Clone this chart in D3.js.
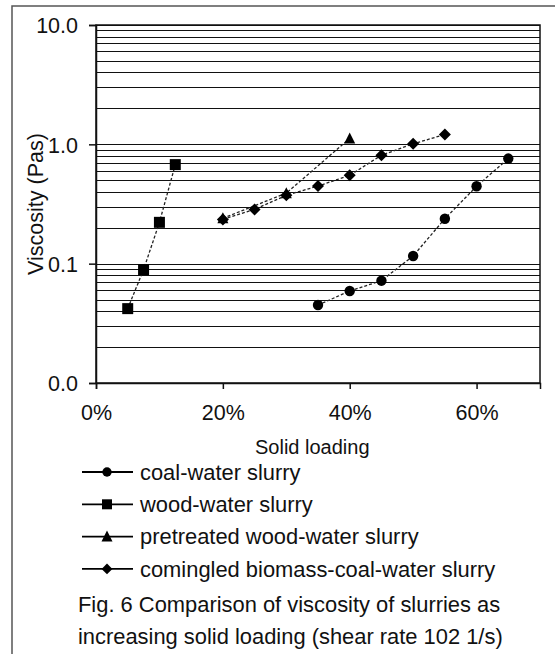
<!doctype html>
<html>
<head>
<meta charset="utf-8">
<title>Viscosity of slurries</title>
<style>
  body { margin: 0; background: #fff; }
  svg { display: block; font-family: "Liberation Sans", Arial, sans-serif; }
  .grid line { stroke: #111; stroke-width: 1; shape-rendering: crispEdges; }
  .lbl { font-size: 21.5px; fill: #111; }
  .big { font-size: 21.9px; }
</style>
</head>
<body>
<svg></svg>
<script src="https://d3js.org/d3.v7.min.js"></script>
<script>
// solid loading (fraction) and viscosity (Pa s) per series
var coalX = [0.35, 0.40, 0.45, 0.50, 0.55, 0.60, 0.65];
var coalY = [0.045, 0.059, 0.072, 0.116, 0.238, 0.445, 0.76];
var woodX = [0.05, 0.075, 0.10, 0.125];
var woodY = [0.042, 0.089, 0.222, 0.676];
var pretreatedX = [0.20, 0.30, 0.40];
var pretreatedY = [0.24, 0.39, 1.12];
var comingledX = [0.20, 0.25, 0.30, 0.35, 0.40, 0.45, 0.50, 0.55];
var comingledY = [0.235, 0.285, 0.374, 0.447, 0.55, 0.81, 1.01, 1.21];

var seriesNames = ['coal-water slurry', 'wood-water slurry', 'pretreated wood-water slurry', 'comingled biomass-coal-water slurry'];
var seriesShapes = ['circle', 'square', 'triangle', 'diamond'];
var xTicks = [0, 0.2, 0.4, 0.6];
var yTicks = [0.01, 0.1, 1, 10];
var caption = ['Fig. 6 Comparison of viscosity of slurries as', 'increasing solid loading (shear rate 102 1/s)'];

var width = 555, height = 654;
var svg = d3.select('svg').attr('width', width).attr('height', height);

var x = d3.scaleLinear().domain([0, 0.7]).range([96, 540]);
var y = d3.scaleLog().domain([0.01, 10]).range([383, 25]);

// outer frame
svg.append('rect')
  .attr('x', 12).attr('y', 6).attr('width', 600).attr('height', 700)
  .attr('fill', 'none').attr('stroke', '#555').attr('stroke-width', 1.5);

// gridlines at every minor value
var gridVals = [];
[0.01, 0.1, 1].forEach(function(d){
  for (var k = 2; k <= 10; k++) gridVals.push(+(d * k).toPrecision(3));
});
svg.append('g').attr('class', 'grid').selectAll('line').data(gridVals).enter().append('line')
  .attr('x1', x(0)).attr('x2', x(0.7))
  .attr('y1', function(d){ return Math.round(y(d)) + 0.5; })
  .attr('y2', function(d){ return Math.round(y(d)) + 0.5; });

// plot frame
svg.append('rect')
  .attr('x', x(0)).attr('y', y(10)).attr('width', x(0.7) - x(0)).attr('height', y(0.01) - y(10))
  .attr('fill', 'none').attr('stroke', '#111').attr('stroke-width', 1.5);

// axes
var xAxis = svg.append('g').attr('transform', 'translate(0,' + y(0.01) + ')')
  .call(d3.axisBottom(x).tickValues(xTicks).tickSize(6).tickFormat(d3.format('.0%')));
var yAxis = svg.append('g').attr('transform', 'translate(' + x(0) + ',0)')
  .call(d3.axisLeft(y).tickValues(yTicks).tickSize(7).tickFormat(d3.format('.1f')));
[xAxis, yAxis].forEach(function(a){
  a.select('.domain').attr('stroke', '#111').attr('stroke-width', 1.5);
  a.selectAll('.tick line').attr('stroke', '#111').attr('stroke-width', 1.5);
  a.selectAll('.tick text').attr('class', 'lbl').attr('font-family', null).attr('font-size', null);
});
xAxis.selectAll('.tick text').attr('dy', null).attr('y', 37);
yAxis.selectAll('.tick text').attr('x', -18).attr('dy', '0.36em');

svg.append('text').attr('class', 'lbl').attr('x', 255).attr('y', 454)
  .style('font-size', '20px').text('Solid loading');
svg.append('text').attr('class', 'lbl')
  .attr('transform', 'translate(43,' + ((y(10) + y(0.01)) / 2) + ') rotate(-90)')
  .attr('text-anchor', 'middle').text('Viscosity (Pas)');

function marker(shape, s){
  var h = s / 2;
  if (shape === 'square') return 'M' + -h + ',' + -h + 'h' + s + 'v' + s + 'h' + -s + 'Z';
  if (shape === 'diamond') return 'M0,' + -h * 1.2 + 'L' + h * 1.2 + ',0L0,' + h * 1.2 + 'L' + -h * 1.2 + ',0Z';
  if (shape === 'triangle') return 'M0,' + -h * 1.2 + 'L' + h * 1.1 + ',' + h + 'L' + -h * 1.1 + ',' + h + 'Z';
  return d3.symbol(d3.symbolCircle, s * s * 0.85)();
}

var seriesX = [coalX, woodX, pretreatedX, comingledX];
var seriesY = [coalY, woodY, pretreatedY, comingledY];
var line = d3.line().x(function(d){ return x(d[0]); }).y(function(d){ return y(d[1]); });

seriesNames.forEach(function(name, i){
  var pts = seriesX[i].map(function(v, j){ return [v, seriesY[i][j]]; });
  var g = svg.append('g');
  g.append('path').datum(pts).attr('d', line)
    .attr('fill', 'none').attr('stroke', '#222').attr('stroke-width', 1.3).attr('stroke-dasharray', '3,2');
  g.selectAll('path.m').data(pts).enter().append('path').attr('class', 'm')
    .attr('transform', function(d){ return 'translate(' + x(d[0]) + ',' + y(d[1]) + ')'; })
    .attr('d', marker(seriesShapes[i], i === 1 ? 11 : 10)).attr('fill', '#000');
});

// legend
var legend = svg.append('g').selectAll('g').data(seriesNames).enter().append('g')
  .attr('transform', function(d, i){ return 'translate(82,' + (472 + i * 32.3) + ')'; });
legend.append('line').attr('x1', 0).attr('x2', 51).attr('stroke', '#000').attr('stroke-width', 1.8);
legend.append('path').attr('transform', 'translate(25,0)')
  .attr('d', function(d, i){ return marker(seriesShapes[i], i === 0 || i === 3 ? 9 : 10); }).attr('fill', '#000');
legend.append('text').attr('class', 'lbl big').attr('x', 58).attr('dy', '0.36em').text(function(d){ return d; });

svg.selectAll('text.cap').data(caption).enter().append('text')
  .attr('class', 'lbl big cap').attr('x', 78)
  .attr('y', function(d, i){ return 612 + i * 32; }).text(function(d){ return d; });
</script>
</body>
</html>
